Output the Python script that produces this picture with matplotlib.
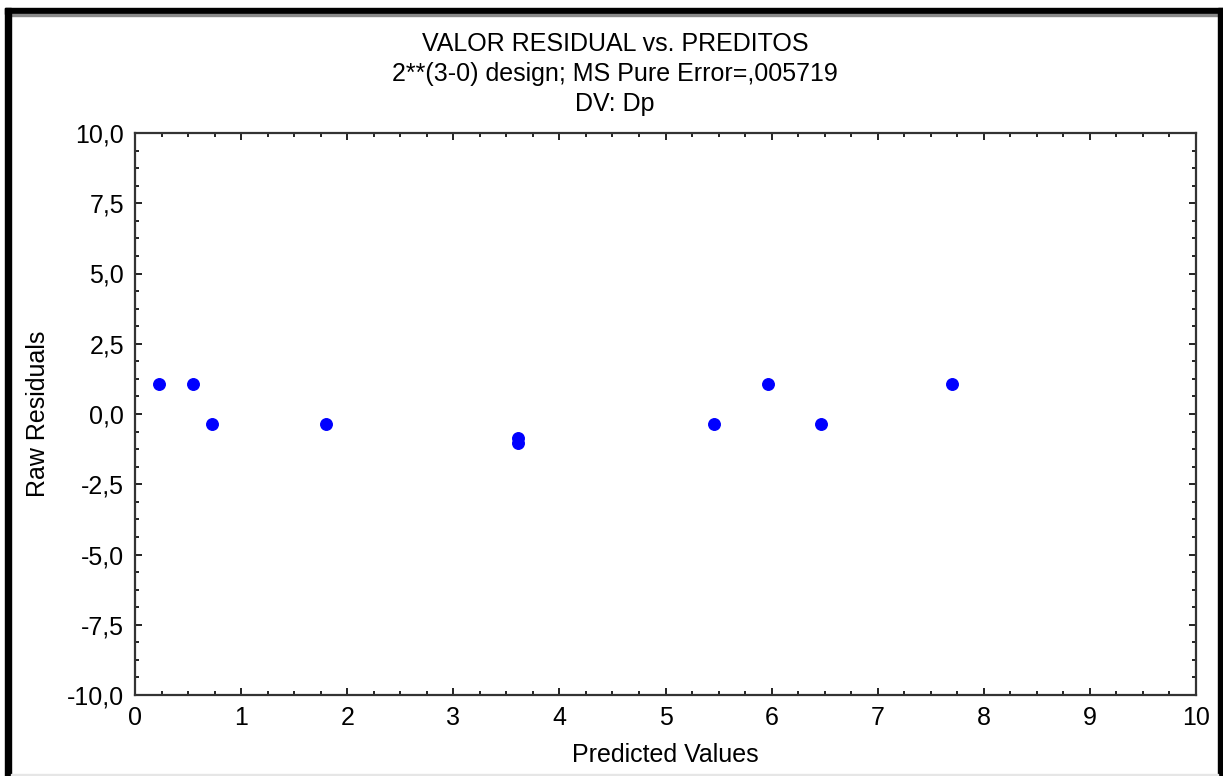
import matplotlib
matplotlib.use("Agg")
import matplotlib.pyplot as plt
from matplotlib.ticker import MultipleLocator, FuncFormatter
from matplotlib.patches import Rectangle

plt.rcParams['font.family'] = ['Liberation Sans', 'DejaVu Sans']

predicted = [0.226, 0.547, 0.726, 1.80, 3.61, 3.61, 5.46, 5.97, 6.47, 7.70]
residuals = [1.06, 1.06, -0.37, -0.37, -0.86, -1.04, -0.37, 1.06, -0.37, 1.06]

title_lines = ["VALOR RESIDUAL vs. PREDITOS",
               "2**(3-0) design; MS Pure Error=,005719",
               "DV: Dp"]
xlabel = "Predicted Values"
ylabel = "Raw Residuals"

W, H = 1223, 776
fig = plt.figure(figsize=(W / 100, H / 100), dpi=100)
fig.patch.set_facecolor('white')

# frame bars
def px_rect(x0, y0, x1, y1, color):
    fig.patches.append(Rectangle((x0 / W, 1 - y1 / H), (x1 - x0) / W, (y1 - y0) / H,
                                 transform=fig.transFigure, color=color, zorder=0))

px_rect(5, 8, W, 14, 'black')
px_rect(11, 14, 1218, 16, '#8a8a8a')
px_rect(5, 8, 11, H, 'black')
px_rect(1218, 8, W, H, 'black')
px_rect(11, 774, 1218, H, '#e6e6e6')

left, right, top, bottom = 135, 1196, 133, 695
ax = fig.add_axes([left / W, 1 - bottom / H, (right - left) / W, (bottom - top) / H])
ax.set_xlim(0, 10)
ax.set_ylim(-10, 10)

ax.plot(predicted, residuals, linestyle='none', marker='o', markersize=8.3,
        color='#0000ff', markeredgecolor='#0000ff')

ax.xaxis.set_major_locator(MultipleLocator(1))
ax.xaxis.set_minor_locator(MultipleLocator(0.25))
ax.yaxis.set_major_locator(MultipleLocator(2.5))
ax.yaxis.set_minor_locator(MultipleLocator(0.625))
ax.yaxis.set_major_formatter(FuncFormatter(lambda v, p: f"{v:.1f}".replace('.', ',')))

ax.tick_params(which='both', direction='in', top=True, right=True, color='#111111',
               labelsize=18, labelcolor='black', width=1.3)
ax.tick_params(which='major', length=5)
ax.tick_params(which='minor', length=3)
ax.tick_params(axis='y', which='major', pad=8)
ax.tick_params(axis='x', which='major', pad=8)
for s in ax.spines.values():
    s.set_linewidth(1.6)
    s.set_color('#333333')

ax.set_xlabel(xlabel, fontsize=18, labelpad=9)
ax.set_ylabel(ylabel, fontsize=18, labelpad=12)

ys = [44, 74, 104]
for t, y in zip(title_lines, ys):
    fig.text(615 / W, 1 - y / H, t, ha='center', va='center', fontsize=18)

fig.savefig('out.png', dpi=100)
